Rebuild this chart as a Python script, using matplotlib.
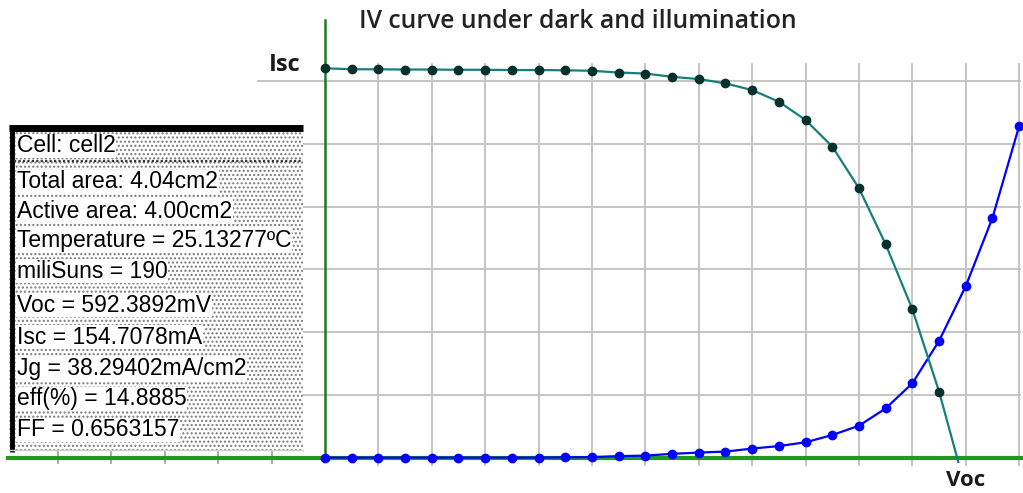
import matplotlib.pyplot as plt
from matplotlib.patches import Rectangle

# IV curve data (voltage in mV, current in mA)
v_light = [0, 25, 50, 75, 100, 125, 150, 175, 200, 225, 250, 275, 300,
           325, 350, 375, 400, 425, 450, 475, 500, 525, 550, 575, 593]
i_light = [155.1, 154.7, 154.7, 154.6, 154.6, 154.5, 154.5, 154.4, 154.4, 154.3,
           154.1, 153.4, 153.0, 151.7, 150.8, 149.1, 146.4, 141.8, 134.5,
           123.9, 107.3, 85.0, 59.1, 26.3, -1.7]

v_dark = [0, 25, 50, 75, 100, 125, 150, 175, 200, 225, 250, 275, 300,
          325, 350, 375, 400, 425, 450, 475, 500, 525, 550, 575, 600, 625, 650]
i_dark = [0, 0, 0, 0, 0, 0, 0, 0, 0, 0.1, 0.2, 0.6, 0.8,
          1.5, 2.0, 2.4, 3.6, 4.6, 6.1, 9.0, 12.7, 19.6, 29.6, 46.5, 68.3, 95.5, 132.1]

info_lines = ["Cell: cell2", "Total area: 4.04cm2", "Active area: 4.00cm2",
              "Temperature = 25.13277\u00baC", "miliSuns = 190", "Voc = 592.3892mV",
              "Isc = 154.7078mA", "Jg = 38.29402mA/cm2", "eff(%) = 14.8885",
              "FF = 0.6563157"]

grid_v = [50, 100, 150, 200, 250, 300, 350, 400, 450, 500, 550, 600, 650]
grid_i = [25, 50, 75, 100, 125, 150]
neg_ticks = [-50, -100, -150, -200, -250]

fig = plt.figure(figsize=(10.23, 4.93), dpi=100)
ax = fig.add_axes([0, 0, 1, 1])
ax.set_xlim(-304.3, 653.6)
ax.set_ylim(-14.1, 182.3)
ax.axis('off')

# grid
for v in grid_v:
    ax.plot([v, v], [-3, 157], color='#c4c4c4', lw=1.4, zorder=1)
for i in grid_i:
    ax.plot([-62.7, 651], [i, i], color='#c4c4c4', lw=1.4, zorder=1)
for v in neg_ticks:
    ax.plot([v, v], [-2.2, 2.2], color='#9a9a9a', lw=1.2, zorder=1)

# axes lines
ax.plot([-297, 652], [0, 0], color='#1e9a1e', lw=3, zorder=2)
ax.plot([0, 0], [0, 174.5], color='#1f7a1f', lw=1.8, zorder=2)

# curves
ax.plot(v_dark, i_dark, color='#0000ff', lw=1.6, marker='o', ms=6,
        mfc='#0000ff', mec='#0000ff', zorder=4)
ax.plot(v_light, i_light, color='#13807b', lw=1.6, marker='o', ms=6,
        mfc='#06302c', mec='#06302c', markevery=list(range(len(v_light) - 1)), zorder=5)

# labels on the axes
ax.text(-38, i_light[0] + 1.5, 'Isc', fontsize=17, fontweight='bold', family='Open Sans',
        ha='center', va='center', color='#1a1a1a')
ax.text(600, -9.2, 'Voc', fontsize=16, fontweight='bold', family='Open Sans',
        ha='center', va='center', color='#1a1a1a')

# overlay in pixel coordinates for the info box and title
ov = fig.add_axes([0, 0, 1, 1])
ov.set_xlim(0, 1023)
ov.set_ylim(493, 0)
ov.axis('off')
ov.patch.set_alpha(0)

ov.text(578, 22, 'IV curve under dark and illumination', fontsize=17.8, family='Open Sans',
        fontweight='semibold', ha='center', va='center', color='#222222')

ov.add_patch(Rectangle((9, 125), 294, 325, facecolor='white', edgecolor='none', zorder=6))
ov.add_patch(Rectangle((9, 125), 294, 325, facecolor='none', edgecolor='#7a7a7a',
                       hatch='....', lw=0, zorder=6))
ov.plot([9, 303], [128, 128], color='black', lw=5, zorder=8, solid_capstyle='butt')
ov.plot([11.5, 11.5], [125, 452], color='black', lw=3.5, zorder=8, solid_capstyle='butt')
ov.plot([14, 303], [161, 161], color='#333333', lw=1.6, ls=(0, (1, 1)), zorder=8)
ov.plot([9, 303], [450, 450], color='#d0d0d0', lw=1, zorder=8)

ys = [146, 182, 211, 240, 271, 305, 337, 369, 399, 430]
box_font = ['Liberation Sans Narrow', 'Liberation Sans', 'DejaVu Sans']
for txt, y in zip(info_lines, ys):
    ov.text(17, y, txt, fontsize=16.5, family=box_font, ha='left', va='center',
            color='black', zorder=9,
            bbox=dict(facecolor='white', edgecolor='none', pad=0.5))

fig.savefig('out.png', dpi=100)
